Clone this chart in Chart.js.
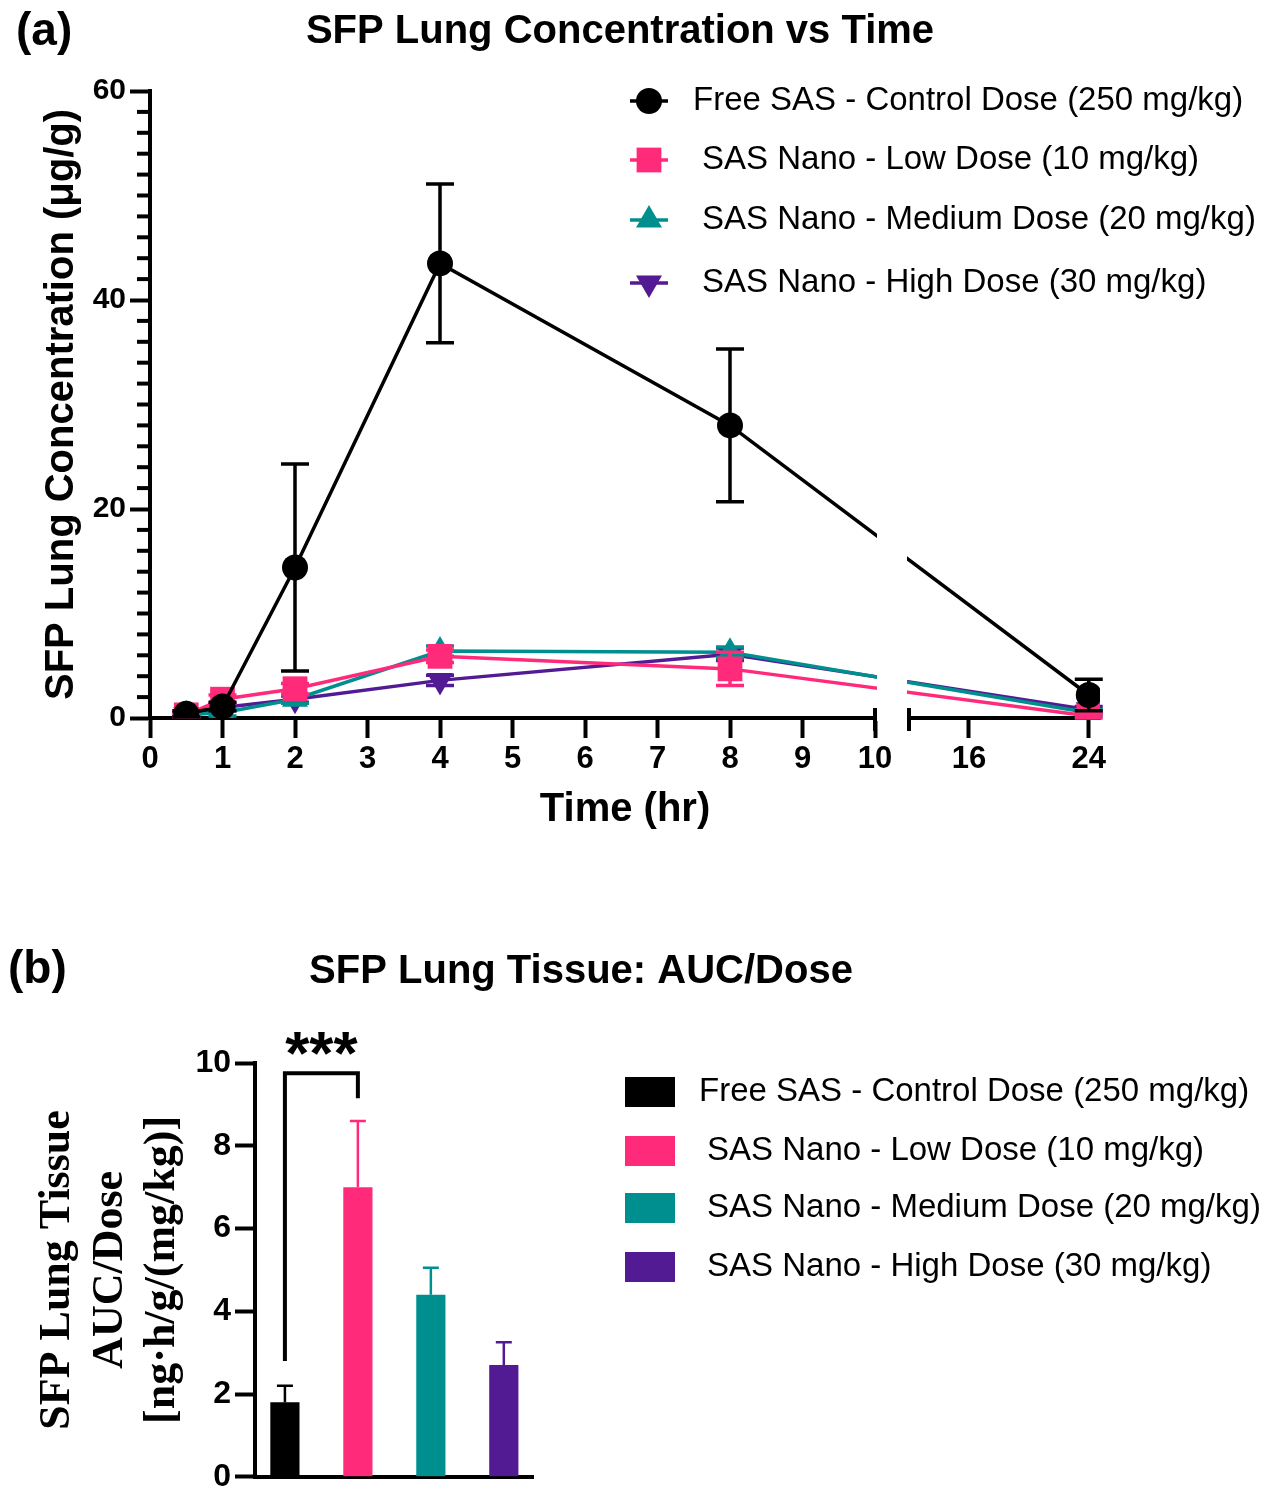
<!DOCTYPE html>
<html>
<head>
<meta charset="utf-8">
<script src="https://cdn.jsdelivr.net/npm/chart.js@4.4.1/dist/chart.umd.min.js"></script>
<style>
  body { margin: 0; background: #fff; }
  #wrap { position: relative; width: 1277px; height: 1500px; }
  #chartA { position: absolute; left: 0; top: 0; }
  #chartB { position: absolute; left: 0; top: 930px; }
</style>
</head>
<body>
<div id="wrap">
  <canvas id="chartA" width="1277" height="870"></canvas>
  <canvas id="chartB" width="1277" height="570"></canvas>
</div>
<script>
// ---- data ----
const seriesNames = [
  "Free SAS - Control Dose (250 mg/kg)",
  "SAS Nano - Low Dose (10 mg/kg)",
  "SAS Nano - Medium Dose (20 mg/kg)",
  "SAS Nano - High Dose (30 mg/kg)",
];
const seriesColors = ["#000000", "#ff2a7a", "#008f8f", "#531b93"];

const timeHr = [0.5, 1, 2, 4, 8, 24];
const controlConc = [0.4, 1.1, 14.4, 43.5, 28.0, 2.2];
const lowConc = [0.3, 1.8, 2.8, 5.9, 4.7, 0.2];
const mediumConc = [0.3, 0.5, 1.8, 6.4, 6.3, 0.5];
const highConc = [0.3, 1.0, 1.8, 3.6, 6.1, 0.8];

const controlSd = [0.3, 0.4, 9.9, 7.6, 7.3, 1.5];
const lowSd = [0.2, 0.4, 0.5, 0.6, 1.6, 0.2];
const mediumSd = [0.2, 0.3, 0.4, 0.5, 0.5, 0.3];
const highSd = [0.2, 0.3, 0.3, 0.5, 0.6, 0.3];

const timeTicks = [0, 1, 2, 3, 4, 5, 6, 7, 8, 9, 10, 16, 24];

const groupIndex = [0, 1, 2, 3];
const aucDose = [1.8, 7.0, 4.4, 2.7];
const aucDoseSd = [0.4, 1.6, 0.65, 0.55];

const sigPair = [0, 1];
const sigLegs = [2.8, 9.15];
const sigTop = 9.75;
const sigLabel = "***";

const sans = "'Liberation Sans', Arial, sans-serif";
const serif = "'Liberation Serif', 'Times New Roman', serif";
Chart.defaults.font.family = sans;
Chart.defaults.color = "#000";

// linear axis with a gap between breakFrom and breakTo
class BrokenAxis extends Chart.LinearScale {
  buildTicks() {
    return this.options.tickValues.map((v) => ({ value: v }));
  }
  parts() {
    const o = this.options;
    const wLeft = this.width * o.leftShare;
    const wGap = this.width * o.gapShare;
    return { o, wLeft, wGap, wRight: this.width - wLeft - wGap };
  }
  getPixelForValue(v) {
    const { o, wLeft, wGap, wRight } = this.parts();
    if (v <= o.breakFrom) return this.left + ((v - this.min) / (o.breakFrom - this.min)) * wLeft;
    if (v >= o.breakTo) return this.left + wLeft + wGap + ((v - o.breakTo) / (this.max - o.breakTo)) * wRight;
    return this.left + wLeft + ((v - o.breakFrom) / (o.breakTo - o.breakFrom)) * wGap;
  }
  getValueForPixel(p) {
    const { o, wLeft, wGap, wRight } = this.parts();
    const d = p - this.left;
    if (d <= wLeft) return this.min + (d / wLeft) * (o.breakFrom - this.min);
    if (d >= wLeft + wGap) return o.breakTo + ((d - wLeft - wGap) / wRight) * (this.max - o.breakTo);
    return o.breakFrom + ((d - wLeft) / wGap) * (o.breakTo - o.breakFrom);
  }
}
BrokenAxis.id = "brokenLinear";
BrokenAxis.defaults = {};
Chart.register(BrokenAxis);

// ---- plugins ----
const panelText = {
  id: "panelText",
  afterDraw(chart, args, opts) {
    const ctx = chart.ctx;
    ctx.save();
    ctx.fillStyle = "#000";
    ctx.textBaseline = "middle";
    ctx.textAlign = "left";
    ctx.font = "bold " + opts.labelSize + "px " + sans;
    ctx.fillText(opts.label, opts.labelX, opts.labelY);
    ctx.textAlign = "center";
    ctx.font = "bold " + opts.titleSize + "px " + sans;
    ctx.fillText(opts.title, opts.titleX, opts.titleY);
    ctx.restore();
  },
};

const sideLegend = {
  id: "sideLegend",
  afterDraw(chart, args, opts) {
    const ctx = chart.ctx;
    ctx.save();
    ctx.font = opts.fontSize + "px " + sans;
    ctx.textBaseline = "middle";
    ctx.textAlign = "left";
    opts.rows.forEach(function (rowY, i) {
      const color = seriesColors[i];
      if (opts.kind === "box") {
        ctx.fillStyle = color;
        ctx.fillRect(opts.symbolX, rowY - opts.boxH / 2, opts.boxW, opts.boxH);
      } else {
        const ds = chart.data.datasets[i];
        ctx.strokeStyle = color;
        ctx.lineWidth = 3.5;
        ctx.beginPath();
        ctx.moveTo(opts.symbolX, rowY);
        ctx.lineTo(opts.symbolX + opts.lineW, rowY);
        ctx.stroke();
        ctx.fillStyle = color;
        Chart.helpers.drawPoint(ctx, {
          pointStyle: ds.pointStyle,
          radius: ds.pointRadius,
          rotation: ds.pointRotation || 0,
          borderWidth: 0,
        }, opts.symbolX + opts.lineW / 2, rowY);
      }
      ctx.fillStyle = "#000";
      ctx.fillText(seriesNames[i], opts.textX[i], rowY);
    });
    ctx.restore();
  },
};

const errorBars = {
  id: "errorBars",
  afterDatasetDraw(chart, args) {
    const ds = chart.data.datasets[args.index];
    if (!ds.sd) return;
    const { ctx, scales: { x, y } } = chart;
    ctx.save();
    ctx.strokeStyle = ds.borderColor;
    ctx.lineWidth = 3.5;
    ds.data.forEach(function (p, k) {
      const sd = ds.sd[k];
      if (!sd) return;
      const px = x.getPixelForValue(p.x);
      const top = y.getPixelForValue(p.y + sd);
      const bot = y.getPixelForValue(p.y - sd);
      ctx.beginPath();
      ctx.moveTo(px, top);
      ctx.lineTo(px, bot);
      ctx.moveTo(px - 14, top);
      ctx.lineTo(px + 14, top);
      ctx.moveTo(px - 14, bot);
      ctx.lineTo(px + 14, bot);
      ctx.stroke();
    });
    ctx.restore();
  },
};

const axisBreak = {
  id: "axisBreak",
  afterDraw(chart) {
    const { ctx, chartArea, scales: { x, y } } = chart;
    const xa = x.getPixelForValue(x.options.breakFrom);
    const xb = x.getPixelForValue(x.options.breakTo);
    const base = chartArea.bottom;
    ctx.save();
    ctx.fillStyle = "#fff";
    ctx.fillRect(xa + 2, chartArea.top - 5, xb - xa - 4, base - chartArea.top + 8);
    ctx.strokeStyle = "#000";
    ctx.lineWidth = 4;
    [xa, xb].forEach(function (px) {
      ctx.beginPath();
      ctx.moveTo(px, base - 10);
      ctx.lineTo(px, base + 13);
      ctx.stroke();
    });
    // minor ticks on the y axis
    for (let v = y.min; v <= y.max; v += 2) {
      if (v % 20 === 0) continue;
      const py = y.getPixelForValue(v);
      ctx.beginPath();
      ctx.moveTo(chartArea.left - 13, py);
      ctx.lineTo(chartArea.left, py);
      ctx.stroke();
    }
    ctx.restore();
  },
};

const barExtras = {
  id: "barExtras",
  afterDatasetsDraw(chart) {
    const { ctx, scales: { x, y } } = chart;
    const ds = chart.data.datasets[0];
    ctx.save();
    ctx.lineWidth = 2.5;
    ds.data.forEach(function (p, k) {
      const px = x.getPixelForValue(p.x);
      const top = y.getPixelForValue(p.y + ds.sd[k]);
      ctx.strokeStyle = seriesColors[k];
      ctx.beginPath();
      ctx.moveTo(px, y.getPixelForValue(p.y));
      ctx.lineTo(px, top);
      ctx.moveTo(px - 8, top);
      ctx.lineTo(px + 8, top);
      ctx.stroke();
    });
    // significance bracket
    const x0 = x.getPixelForValue(sigPair[0]);
    const x1 = x.getPixelForValue(sigPair[1]);
    const yt = y.getPixelForValue(sigTop);
    ctx.strokeStyle = "#000";
    ctx.lineWidth = 4;
    ctx.beginPath();
    ctx.moveTo(x0, y.getPixelForValue(sigLegs[0]));
    ctx.lineTo(x0, yt);
    ctx.lineTo(x1, yt);
    ctx.lineTo(x1, y.getPixelForValue(sigLegs[1]));
    ctx.stroke();
    ctx.fillStyle = "#000";
    ctx.font = "bold 62px " + sans;
    ctx.textAlign = "center";
    ctx.textBaseline = "middle";
    ctx.fillText(sigLabel, (x0 + x1) / 2, y.getPixelForValue(10.15));
    ctx.restore();
  },
};

function lineSeries(i, values, sd, style, radius, rotation) {
  return {
    label: seriesNames[i],
    data: timeHr.map(function (t, k) { return { x: t, y: values[k] }; }),
    sd: sd,
    borderColor: seriesColors[i],
    backgroundColor: seriesColors[i],
    borderWidth: 3.5,
    pointStyle: style,
    pointRadius: radius,
    pointRotation: rotation,
    pointBorderWidth: 0,
    tension: 0,
  };
}

const axisStyle = {
  grid: { display: true, drawOnChartArea: false, drawTicks: true, tickLength: 20, tickWidth: 4, tickColor: "#000" },
  border: { display: true, color: "#000", width: 4 },
};

// ---- chart (a) ----
new Chart(document.getElementById("chartA"), {
  type: "line",
  data: {
    datasets: [
      lineSeries(0, controlConc, controlSd, "circle", 13, 0),
      lineSeries(1, lowConc, lowSd, "rect", 17.5, 0),
      lineSeries(2, mediumConc, mediumSd, "triangle", 15, 0),
      lineSeries(3, highConc, highSd, "triangle", 15, 180),
    ],
  },
  plugins: [errorBars, axisBreak, panelText, sideLegend],
  options: {
    responsive: false,
    animation: false,
    events: [],
    layout: { padding: { left: 30, top: 91, right: 177, bottom: 0 } },
    plugins: {
      legend: { display: false },
      tooltip: { enabled: false },
      panelText: {
        label: "(a)", labelX: 16, labelY: 32, labelSize: 46,
        title: "SFP Lung Concentration vs Time", titleX: 620, titleY: 32, titleSize: 40,
      },
      sideLegend: {
        kind: "line", fontSize: 33, symbolX: 630, lineW: 38,
        rows: [101, 160, 220, 283], textX: [693, 702, 702, 702],
      },
    },
    scales: {
      x: {
        type: "brokenLinear",
        min: 0,
        max: 24.75,
        breakFrom: 10,
        breakTo: 12,
        leftShare: 725 / 950,
        gapShare: 34 / 950,
        tickValues: timeTicks,
        ticks: {
          autoSkip: false, maxRotation: 0, padding: 3,
          font: { size: 31, weight: "bold" },
          callback: function (v) { return String(v); },
        },
        title: { display: true, text: "Time (hr)", font: { size: 40, weight: "bold" }, padding: { bottom: 36 } },
        grid: axisStyle.grid,
        border: axisStyle.border,
        afterFit: function (s) { s.height = 152; },
      },
      y: {
        min: 0,
        max: 60,
        ticks: { stepSize: 20, padding: 4, font: { size: 30, weight: "bold" } },
        title: { display: true, text: "SFP Lung Concentration (μg/g)", font: { size: 40, weight: "bold" }, padding: { top: 8 } },
        grid: axisStyle.grid,
        border: axisStyle.border,
        afterFit: function (s) { s.width = 120; },
      },
    },
  },
});

// ---- chart (b) ----
new Chart(document.getElementById("chartB"), {
  type: "bar",
  data: {
    datasets: [{
      label: "AUC/Dose",
      data: groupIndex.map(function (g, i) { return { x: g, y: aucDose[i] }; }),
      sd: aucDoseSd,
      backgroundColor: seriesColors,
      barPercentage: 0.4,
      categoryPercentage: 1,
    }],
  },
  plugins: [barExtras, panelText, sideLegend],
  options: {
    responsive: false,
    animation: false,
    events: [],
    layout: { padding: { left: 20, top: 133, right: 744, bottom: 22 } },
    plugins: {
      legend: { display: false },
      tooltip: { enabled: false },
      panelText: {
        label: "(b)", labelX: 8, labelY: 40, labelSize: 46,
        title: "SFP Lung Tissue: AUC/Dose", titleX: 581, titleY: 42, titleSize: 40,
      },
      sideLegend: {
        kind: "box", fontSize: 33, symbolX: 625, boxW: 50, boxH: 30,
        rows: [162, 221, 278, 337], textX: [699, 707, 707, 707],
      },
    },
    scales: {
      x: {
        type: "linear",
        min: -0.41,
        max: 3.4,
        offset: false,
        ticks: { display: false },
        grid: { display: false },
        border: { display: true, color: "#000", width: 4 },
        afterBuildTicks: function (s) { s.ticks = groupIndex.map(function (v) { return { value: v }; }); },
        afterFit: function (s) { s.height = 0; },
      },
      y: {
        min: 0,
        max: 10,
        ticks: { stepSize: 2, padding: 4, font: { size: 32, weight: "bold" } },
        title: {
          display: true,
          text: ["SFP Lung Tissue", "AUC/Dose", "[ng·h/g/(mg/kg)]"],
          font: { family: serif, size: 44, weight: "bold" },
          padding: { top: 11 },
        },
        grid: axisStyle.grid,
        border: axisStyle.border,
        afterFit: function (s) { s.width = 235; },
      },
    },
  },
});
</script>
</body>
</html>
